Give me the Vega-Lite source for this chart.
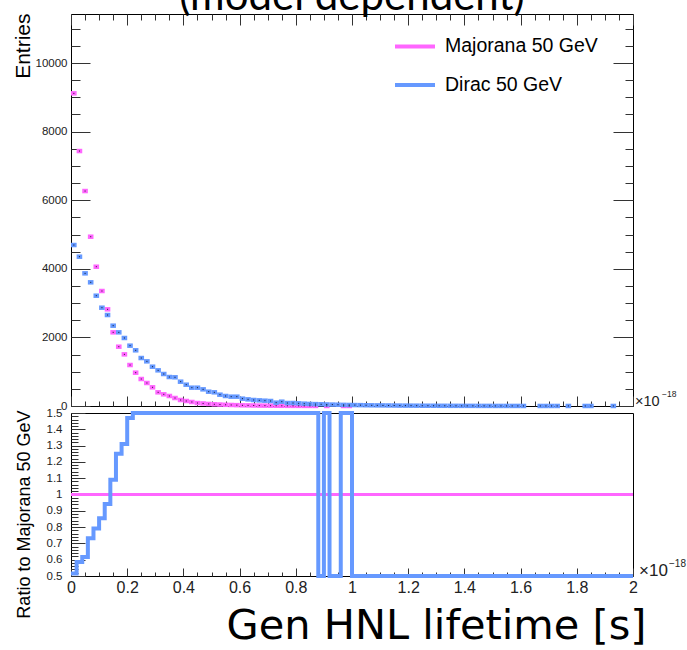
{
  "$schema": "https://vega.github.io/schema/vega-lite/v6.json",
  "padding": {"left": 11, "top": -25, "right": 0, "bottom": 0},
  "bounds": "flush",
  "spacing": 7,
  "background": "white",
  "title": {"text": "(model dependent)", "font": "Lato", "fontSize": 42, "fontWeight": "normal", "color": "#000", "anchor": "middle", "frame": "group", "baseline": "alphabetic", "offset": -39},
  "config": {
    "view": {"stroke": "#000", "strokeWidth": 1},
    "font": "Liberation Sans",
    "axis": {"domain": false, "grid": false, "tickColor": "#333", "tickWidth": 1, "labelColor": "#222", "labelFont": "Liberation Sans", "titleFont": "Liberation Sans", "titleFontWeight": "normal", "titleColor": "#000", "labelFlush": false, "labelOverlap": false, "labelBound": false}
  },
  "datasets": {
    "hist": [
      {"s":"Majorana 50 GeV","a":0,"b":0.02,"n":9117},
      {"s":"Majorana 50 GeV","a":0.02,"b":0.04,"n":7434},
      {"s":"Majorana 50 GeV","a":0.04,"b":0.06,"n":6268},
      {"s":"Majorana 50 GeV","a":0.06,"b":0.08,"n":4936},
      {"s":"Majorana 50 GeV","a":0.08,"b":0.1,"n":4061},
      {"s":"Majorana 50 GeV","a":0.1,"b":0.12,"n":3353},
      {"s":"Majorana 50 GeV","a":0.12,"b":0.14,"n":2819},
      {"s":"Majorana 50 GeV","a":0.14,"b":0.16,"n":2148},
      {"s":"Majorana 50 GeV","a":0.16,"b":0.18,"n":1729},
      {"s":"Majorana 50 GeV","a":0.18,"b":0.2,"n":1506},
      {"s":"Majorana 50 GeV","a":0.2,"b":0.22,"n":1195},
      {"s":"Majorana 50 GeV","a":0.22,"b":0.24,"n":971},
      {"s":"Majorana 50 GeV","a":0.24,"b":0.26,"n":787},
      {"s":"Majorana 50 GeV","a":0.26,"b":0.28,"n":671},
      {"s":"Majorana 50 GeV","a":0.28,"b":0.3,"n":545},
      {"s":"Majorana 50 GeV","a":0.3,"b":0.32,"n":399},
      {"s":"Majorana 50 GeV","a":0.32,"b":0.34,"n":341},
      {"s":"Majorana 50 GeV","a":0.34,"b":0.36,"n":292},
      {"s":"Majorana 50 GeV","a":0.36,"b":0.38,"n":233},
      {"s":"Majorana 50 GeV","a":0.38,"b":0.4,"n":175},
      {"s":"Majorana 50 GeV","a":0.4,"b":0.42,"n":146},
      {"s":"Majorana 50 GeV","a":0.42,"b":0.44,"n":117},
      {"s":"Majorana 50 GeV","a":0.44,"b":0.46,"n":87},
      {"s":"Majorana 50 GeV","a":0.46,"b":0.48,"n":75},
      {"s":"Majorana 50 GeV","a":0.48,"b":0.5,"n":60},
      {"s":"Majorana 50 GeV","a":0.5,"b":0.52,"n":50},
      {"s":"Majorana 50 GeV","a":0.52,"b":0.54,"n":42},
      {"s":"Majorana 50 GeV","a":0.54,"b":0.56,"n":35},
      {"s":"Majorana 50 GeV","a":0.56,"b":0.58,"n":30},
      {"s":"Majorana 50 GeV","a":0.58,"b":0.6,"n":25},
      {"s":"Majorana 50 GeV","a":0.6,"b":0.62,"n":20},
      {"s":"Majorana 50 GeV","a":0.62,"b":0.64,"n":18},
      {"s":"Majorana 50 GeV","a":0.64,"b":0.66,"n":15},
      {"s":"Majorana 50 GeV","a":0.66,"b":0.68,"n":12},
      {"s":"Majorana 50 GeV","a":0.68,"b":0.7,"n":10},
      {"s":"Majorana 50 GeV","a":0.7,"b":0.72,"n":9},
      {"s":"Majorana 50 GeV","a":0.72,"b":0.74,"n":7},
      {"s":"Majorana 50 GeV","a":0.74,"b":0.76,"n":6},
      {"s":"Majorana 50 GeV","a":0.76,"b":0.78,"n":5},
      {"s":"Majorana 50 GeV","a":0.78,"b":0.8,"n":4},
      {"s":"Majorana 50 GeV","a":0.8,"b":0.82,"n":4},
      {"s":"Majorana 50 GeV","a":0.82,"b":0.84,"n":3},
      {"s":"Majorana 50 GeV","a":0.84,"b":0.86,"n":3},
      {"s":"Majorana 50 GeV","a":0.86,"b":0.88,"n":2},
      {"s":"Majorana 50 GeV","a":0.9,"b":0.92,"n":1},
      {"s":"Majorana 50 GeV","a":0.96,"b":0.98,"n":1},
      {"s":"Majorana 50 GeV","a":0.98,"b":1.0,"n":1},
      {"s":"Dirac 50 GeV","a":0,"b":0.02,"n":4694},
      {"s":"Dirac 50 GeV","a":0.02,"b":0.04,"n":4353},
      {"s":"Dirac 50 GeV","a":0.04,"b":0.06,"n":3868},
      {"s":"Dirac 50 GeV","a":0.06,"b":0.08,"n":3606},
      {"s":"Dirac 50 GeV","a":0.08,"b":0.1,"n":3216},
      {"s":"Dirac 50 GeV","a":0.1,"b":0.12,"n":2866},
      {"s":"Dirac 50 GeV","a":0.12,"b":0.14,"n":2653},
      {"s":"Dirac 50 GeV","a":0.14,"b":0.16,"n":2342},
      {"s":"Dirac 50 GeV","a":0.16,"b":0.18,"n":2148},
      {"s":"Dirac 50 GeV","a":0.18,"b":0.2,"n":1983},
      {"s":"Dirac 50 GeV","a":0.2,"b":0.22,"n":1759},
      {"s":"Dirac 50 GeV","a":0.22,"b":0.24,"n":1624},
      {"s":"Dirac 50 GeV","a":0.24,"b":0.26,"n":1399},
      {"s":"Dirac 50 GeV","a":0.26,"b":0.28,"n":1302},
      {"s":"Dirac 50 GeV","a":0.28,"b":0.3,"n":1146},
      {"s":"Dirac 50 GeV","a":0.3,"b":0.32,"n":1040},
      {"s":"Dirac 50 GeV","a":0.32,"b":0.34,"n":933},
      {"s":"Dirac 50 GeV","a":0.34,"b":0.36,"n":845},
      {"s":"Dirac 50 GeV","a":0.36,"b":0.38,"n":837},
      {"s":"Dirac 50 GeV","a":0.38,"b":0.4,"n":709},
      {"s":"Dirac 50 GeV","a":0.4,"b":0.42,"n":621},
      {"s":"Dirac 50 GeV","a":0.42,"b":0.44,"n":534},
      {"s":"Dirac 50 GeV","a":0.44,"b":0.46,"n":534},
      {"s":"Dirac 50 GeV","a":0.46,"b":0.48,"n":486},
      {"s":"Dirac 50 GeV","a":0.48,"b":0.5,"n":417},
      {"s":"Dirac 50 GeV","a":0.5,"b":0.52,"n":399},
      {"s":"Dirac 50 GeV","a":0.52,"b":0.54,"n":330},
      {"s":"Dirac 50 GeV","a":0.54,"b":0.56,"n":292},
      {"s":"Dirac 50 GeV","a":0.56,"b":0.58,"n":272},
      {"s":"Dirac 50 GeV","a":0.58,"b":0.6,"n":272},
      {"s":"Dirac 50 GeV","a":0.6,"b":0.62,"n":214},
      {"s":"Dirac 50 GeV","a":0.62,"b":0.64,"n":194},
      {"s":"Dirac 50 GeV","a":0.64,"b":0.66,"n":175},
      {"s":"Dirac 50 GeV","a":0.66,"b":0.68,"n":165},
      {"s":"Dirac 50 GeV","a":0.68,"b":0.7,"n":155},
      {"s":"Dirac 50 GeV","a":0.7,"b":0.72,"n":146},
      {"s":"Dirac 50 GeV","a":0.72,"b":0.74,"n":97},
      {"s":"Dirac 50 GeV","a":0.74,"b":0.76,"n":126},
      {"s":"Dirac 50 GeV","a":0.76,"b":0.78,"n":87},
      {"s":"Dirac 50 GeV","a":0.78,"b":0.8,"n":87},
      {"s":"Dirac 50 GeV","a":0.8,"b":0.82,"n":78},
      {"s":"Dirac 50 GeV","a":0.82,"b":0.84,"n":68},
      {"s":"Dirac 50 GeV","a":0.84,"b":0.86,"n":60},
      {"s":"Dirac 50 GeV","a":0.86,"b":0.88,"n":55},
      {"s":"Dirac 50 GeV","a":0.88,"b":0.9,"n":50},
      {"s":"Dirac 50 GeV","a":0.9,"b":0.92,"n":45},
      {"s":"Dirac 50 GeV","a":0.92,"b":0.94,"n":41},
      {"s":"Dirac 50 GeV","a":0.94,"b":0.96,"n":37},
      {"s":"Dirac 50 GeV","a":0.96,"b":0.98,"n":33},
      {"s":"Dirac 50 GeV","a":0.98,"b":1.0,"n":30},
      {"s":"Dirac 50 GeV","a":1.0,"b":1.02,"n":27},
      {"s":"Dirac 50 GeV","a":1.02,"b":1.04,"n":25},
      {"s":"Dirac 50 GeV","a":1.04,"b":1.06,"n":22},
      {"s":"Dirac 50 GeV","a":1.06,"b":1.08,"n":20},
      {"s":"Dirac 50 GeV","a":1.08,"b":1.1,"n":18},
      {"s":"Dirac 50 GeV","a":1.1,"b":1.12,"n":17},
      {"s":"Dirac 50 GeV","a":1.12,"b":1.14,"n":15},
      {"s":"Dirac 50 GeV","a":1.14,"b":1.16,"n":14},
      {"s":"Dirac 50 GeV","a":1.16,"b":1.18,"n":12},
      {"s":"Dirac 50 GeV","a":1.18,"b":1.2,"n":11},
      {"s":"Dirac 50 GeV","a":1.2,"b":1.22,"n":10},
      {"s":"Dirac 50 GeV","a":1.22,"b":1.24,"n":9},
      {"s":"Dirac 50 GeV","a":1.24,"b":1.26,"n":8},
      {"s":"Dirac 50 GeV","a":1.26,"b":1.28,"n":8},
      {"s":"Dirac 50 GeV","a":1.28,"b":1.3,"n":7},
      {"s":"Dirac 50 GeV","a":1.3,"b":1.32,"n":6},
      {"s":"Dirac 50 GeV","a":1.32,"b":1.34,"n":6},
      {"s":"Dirac 50 GeV","a":1.34,"b":1.36,"n":5},
      {"s":"Dirac 50 GeV","a":1.36,"b":1.38,"n":5},
      {"s":"Dirac 50 GeV","a":1.38,"b":1.4,"n":4},
      {"s":"Dirac 50 GeV","a":1.4,"b":1.42,"n":4},
      {"s":"Dirac 50 GeV","a":1.42,"b":1.44,"n":4},
      {"s":"Dirac 50 GeV","a":1.44,"b":1.46,"n":3},
      {"s":"Dirac 50 GeV","a":1.46,"b":1.48,"n":3},
      {"s":"Dirac 50 GeV","a":1.48,"b":1.5,"n":3},
      {"s":"Dirac 50 GeV","a":1.5,"b":1.52,"n":2},
      {"s":"Dirac 50 GeV","a":1.52,"b":1.54,"n":2},
      {"s":"Dirac 50 GeV","a":1.54,"b":1.56,"n":2},
      {"s":"Dirac 50 GeV","a":1.56,"b":1.58,"n":2},
      {"s":"Dirac 50 GeV","a":1.58,"b":1.6,"n":2},
      {"s":"Dirac 50 GeV","a":1.6,"b":1.62,"n":1},
      {"s":"Dirac 50 GeV","a":1.66,"b":1.68,"n":1},
      {"s":"Dirac 50 GeV","a":1.68,"b":1.7,"n":1},
      {"s":"Dirac 50 GeV","a":1.7,"b":1.72,"n":1},
      {"s":"Dirac 50 GeV","a":1.72,"b":1.74,"n":1},
      {"s":"Dirac 50 GeV","a":1.76,"b":1.78,"n":1},
      {"s":"Dirac 50 GeV","a":1.82,"b":1.84,"n":1},
      {"s":"Dirac 50 GeV","a":1.84,"b":1.86,"n":1},
      {"s":"Dirac 50 GeV","a":1.92,"b":1.94,"n":1}
    ],
    "ratio": [
      {"a":0,"r":0.515},{"a":0.02,"r":0.586},{"a":0.04,"r":0.617},{"a":0.06,"r":0.731},{"a":0.08,"r":0.792},
      {"a":0.1,"r":0.855},{"a":0.12,"r":0.941},{"a":0.14,"r":1.09},{"a":0.16,"r":1.25},{"a":0.18,"r":1.31},
      {"a":0.2,"r":1.47},{"a":0.22,"r":1.67},{"a":0.24,"r":1.78},{"a":0.26,"r":1.94},{"a":0.28,"r":2.1},
      {"a":0.3,"r":2.61},{"a":0.32,"r":2.74},{"a":0.34,"r":2.89},{"a":0.36,"r":3.59},{"a":0.38,"r":4.05},
      {"a":0.4,"r":4.25},{"a":0.42,"r":4.56},{"a":0.44,"r":6.14},{"a":0.46,"r":6.48},{"a":0.48,"r":6.95},
      {"a":0.5,"r":7.98},{"a":0.52,"r":7.86},{"a":0.54,"r":8.34},{"a":0.56,"r":9.07},{"a":0.58,"r":10.9},
      {"a":0.6,"r":10.7},{"a":0.62,"r":10.8},{"a":0.64,"r":11.7},{"a":0.66,"r":13.8},{"a":0.68,"r":15.5},
      {"a":0.7,"r":16.2},{"a":0.72,"r":13.9},{"a":0.74,"r":21},{"a":0.76,"r":17.4},{"a":0.78,"r":21.8},
      {"a":0.8,"r":19.5},{"a":0.82,"r":22.7},{"a":0.84,"r":20},{"a":0.86,"r":27.5},{"a":0.88,"r":0},
      {"a":0.9,"r":45},{"a":0.92,"r":0},{"a":0.94,"r":0},{"a":0.96,"r":33},{"a":0.98,"r":30},
      {"a":1.0,"r":0},{"a":1.02,"r":0},{"a":1.04,"r":0},{"a":1.06,"r":0},{"a":1.08,"r":0},
      {"a":1.1,"r":0},{"a":1.12,"r":0},{"a":1.14,"r":0},{"a":1.16,"r":0},{"a":1.18,"r":0},
      {"a":1.2,"r":0},{"a":1.22,"r":0},{"a":1.24,"r":0},{"a":1.26,"r":0},{"a":1.28,"r":0},
      {"a":1.3,"r":0},{"a":1.32,"r":0},{"a":1.34,"r":0},{"a":1.36,"r":0},{"a":1.38,"r":0},
      {"a":1.4,"r":0},{"a":1.42,"r":0},{"a":1.44,"r":0},{"a":1.46,"r":0},{"a":1.48,"r":0},
      {"a":1.5,"r":0},{"a":1.52,"r":0},{"a":1.54,"r":0},{"a":1.56,"r":0},{"a":1.58,"r":0},
      {"a":1.6,"r":0},{"a":1.62,"r":0},{"a":1.64,"r":0},{"a":1.66,"r":0},{"a":1.68,"r":0},
      {"a":1.7,"r":0},{"a":1.72,"r":0},{"a":1.74,"r":0},{"a":1.76,"r":0},{"a":1.78,"r":0},
      {"a":1.8,"r":0},{"a":1.82,"r":0},{"a":1.84,"r":0},{"a":1.86,"r":0},{"a":1.88,"r":0},
      {"a":1.9,"r":0},{"a":1.92,"r":0},{"a":1.94,"r":0},{"a":1.96,"r":0},{"a":1.98,"r":0},
      {"a":2.0,"r":0}
    ]
  },
  "vconcat": [
    {
      "width": 562,
      "height": 392,
      "data": {"name": "hist"},
      "resolve": {"axis": {"x": "independent", "y": "independent"}},
      "layer": [
        {
          "mark": {"type": "rule", "strokeWidth": 4.5, "strokeCap": "butt"},
          "encoding": {
            "x": {"field": "a", "type": "quantitative", "scale": {"domain": [0, 2], "nice": false, "zero": false},
                  "axis": {"orient": "bottom", "values": [0,0.2,0.4,0.6,0.8,1,1.2,1.4,1.6,1.8,2], "labels": false, "tickSize": -10, "title": null}},
            "x2": {"field": "b"},
            "y": {"field": "n", "type": "quantitative", "scale": {"domain": [0, 11430], "nice": false},
                  "axis": {"orient": "left", "values": [0,2000,4000,6000,8000,10000], "format": "d", "ticks": false, "tickSize": 0, "labelPadding": 4, "labelFontSize": 11.5,
                           "title": "Entries", "titleFontSize": 21, "titleAngle": 270, "titleAlign": "right", "titleBaseline": "alphabetic", "titleX": -42, "titleY": -1}},
            "color": {"field": "s", "type": "nominal", "sort": ["Majorana 50 GeV", "Dirac 50 GeV"],
                      "scale": {"domain": ["Majorana 50 GeV", "Dirac 50 GeV"], "range": ["#ff66ff", "#6699ff"]},
                      "legend": {"orient": "none", "legendX": 322, "legendY": 10.4, "title": null, "symbolType": "stroke", "symbolSize": 1600, "symbolStrokeWidth": 4, "labelFontSize": 19.5, "labelFont": "Liberation Sans", "labelColor": "#000", "labelOffset": 8, "rowPadding": 6.5, "padding": 0, "symbolOpacity": 1}}
          }
        },
        {
          "mark": {"type": "rule", "strokeWidth": 1, "color": "#000", "strokeCap": "butt", "strokeDash": [0, 2.3, 1.1, 50], "opacity": 0.8},
          "encoding": {
            "x": {"field": "a", "type": "quantitative", "scale": {"domain": [0, 2], "nice": false, "zero": false}, "axis": null},
            "x2": {"field": "b"},
            "y": {"field": "n", "type": "quantitative", "scale": {"domain": [0, 11430], "nice": false}, "axis": null}
          }
        },
        {
          "mark": {"type": "point", "opacity": 0},
          "encoding": {
            "x": {"field": "a", "type": "quantitative", "scale": {"domain": [0, 2], "nice": false, "zero": false},
                  "axis": {"orient": "bottom", "values": [0.05,0.1,0.15,0.25,0.3,0.35,0.45,0.5,0.55,0.65,0.7,0.75,0.85,0.9,0.95,1.05,1.1,1.15,1.25,1.3,1.35,1.45,1.5,1.55,1.65,1.7,1.75,1.85,1.9,1.95], "labels": false, "tickSize": -5, "title": null}},
            "y": {"field": "n", "type": "quantitative", "scale": {"domain": [0, 11430], "nice": false},
                  "axis": {"orient": "left", "values": [0,2000,4000,6000,8000,10000], "labels": false, "tickSize": -19, "title": null}}
          }
        },
        {
          "mark": {"type": "point", "opacity": 0},
          "encoding": {
            "x": {"field": "a", "type": "quantitative", "scale": {"domain": [0, 2], "nice": false, "zero": false},
                  "axis": {"orient": "top", "values": [0,0.2,0.4,0.6,0.8,1,1.2,1.4,1.6,1.8,2], "labels": false, "tickSize": -11, "title": null}},
            "y": {"field": "n", "type": "quantitative", "scale": {"domain": [0, 11430], "nice": false},
                  "axis": {"orient": "left", "values": [500,1000,1500,2500,3000,3500,4500,5000,5500,6500,7000,7500,8500,9000,9500,10500,11000], "labels": false, "tickSize": -9, "title": null}}
          }
        },
        {
          "mark": {"type": "point", "opacity": 0},
          "encoding": {
            "x": {"field": "a", "type": "quantitative", "scale": {"domain": [0, 2], "nice": false, "zero": false},
                  "axis": {"orient": "top", "values": [0.05,0.1,0.15,0.25,0.3,0.35,0.45,0.5,0.55,0.65,0.7,0.75,0.85,0.9,0.95,1.05,1.1,1.15,1.25,1.3,1.35,1.45,1.5,1.55,1.65,1.7,1.75,1.85,1.9,1.95], "labels": false, "tickSize": -6, "title": null}},
            "y": {"field": "n", "type": "quantitative", "scale": {"domain": [0, 11430], "nice": false},
                  "axis": {"orient": "right", "values": [0,2000,4000,6000,8000,10000], "labels": false, "tickSize": -20, "title": null}}
          }
        },
        {
          "mark": {"type": "point", "opacity": 0},
          "encoding": {
            "x": {"field": "a", "type": "quantitative", "scale": {"domain": [0, 2], "nice": false, "zero": false}, "axis": null},
            "y": {"field": "n", "type": "quantitative", "scale": {"domain": [0, 11430], "nice": false},
                  "axis": {"orient": "right", "values": [500,1000,1500,2500,3000,3500,4500,5000,5500,6500,7000,7500,8500,9000,9500,10500,11000], "labels": false, "tickSize": -8, "title": null}}
          }
        },
        {
          "data": {"values": [{}]},
          "mark": {"type": "text", "text": "×10", "align": "left", "baseline": "alphabetic", "dx": 2, "fontSize": 14.5, "font": "Liberation Sans", "color": "#222"},
          "encoding": {
            "x": {"datum": 2, "type": "quantitative", "scale": {"domain": [0, 2], "nice": false, "zero": false}, "axis": null},
            "y": {"datum": 0, "type": "quantitative", "scale": {"domain": [0, 11430], "nice": false}, "axis": null}
          }
        },
        {
          "data": {"values": [{}]},
          "mark": {"type": "text", "text": "−18", "align": "left", "baseline": "alphabetic", "dx": 29, "dy": -9, "fontSize": 8.5, "font": "Liberation Sans", "color": "#222"},
          "encoding": {
            "x": {"datum": 2, "type": "quantitative", "scale": {"domain": [0, 2], "nice": false, "zero": false}, "axis": null},
            "y": {"datum": 0, "type": "quantitative", "scale": {"domain": [0, 11430], "nice": false}, "axis": null}
          }
        }
      ]
    },
    {
      "width": 562,
      "height": 163,
      "data": {"name": "ratio"},
      "resolve": {"axis": {"x": "independent", "y": "independent"}},
      "layer": [
        {
          "data": {"values": [{}]},
          "mark": {"type": "rule", "color": "#ff66ff", "strokeWidth": 3},
          "encoding": {
            "y": {"datum": 1, "type": "quantitative", "scale": {"domain": [0.5, 1.5], "nice": false, "zero": false, "clamp": true}, "axis": null}
          }
        },
        {
          "mark": {"type": "line", "interpolate": "step-after", "strokeWidth": 4, "color": "#6699ff", "strokeJoin": "miter"},
          "encoding": {
            "x": {"field": "a", "type": "quantitative", "scale": {"domain": [0, 2], "nice": false, "zero": false},
                  "axis": {"orient": "bottom", "values": [0,0.2,0.4,0.6,0.8,1,1.2,1.4,1.6,1.8,2], "format": "~g", "ticks": false, "tickSize": 0, "labelPadding": 3, "labelFontSize": 16,
                           "title": "Gen HNL lifetime [s]", "titleFont": "DejaVu Sans", "titleFontSize": 41.5, "titleAlign": "right", "titleBaseline": "alphabetic", "titleX": 575, "titleY": 62, "titleColor": "#000"}},
            "y": {"field": "r", "type": "quantitative", "scale": {"domain": [0.5, 1.5], "nice": false, "zero": false, "clamp": true},
                  "axis": {"orient": "left", "values": [0.5,0.6,0.7,0.8,0.9,1,1.1,1.2,1.3,1.4,1.5], "format": "~g", "ticks": false, "tickSize": 0, "labelPadding": 9, "labelFontSize": 11.5,
                           "title": "Ratio to Majorana 50 GeV", "titleFontSize": 18, "titleAngle": 270, "titleAlign": "right", "titleBaseline": "alphabetic", "titleX": -42, "titleY": -3}}
          }
        },
        {
          "mark": {"type": "point", "opacity": 0},
          "encoding": {
            "x": {"field": "a", "type": "quantitative", "scale": {"domain": [0, 2], "nice": false, "zero": false},
                  "axis": {"orient": "bottom", "values": [0,0.2,0.4,0.6,0.8,1,1.2,1.4,1.6,1.8,2], "labels": false, "tickSize": -8, "title": null}},
            "y": {"field": "r", "type": "quantitative", "scale": {"domain": [0.5, 1.5], "nice": false, "zero": false, "clamp": true},
                  "axis": {"orient": "left", "values": [0.5,0.6,0.7,0.8,0.9,1,1.1,1.2,1.3,1.4,1.5], "labels": false, "tickSize": -14, "title": null}}
          }
        },
        {
          "mark": {"type": "point", "opacity": 0},
          "encoding": {
            "x": {"field": "a", "type": "quantitative", "scale": {"domain": [0, 2], "nice": false, "zero": false},
                  "axis": {"orient": "bottom", "values": [0.05,0.1,0.15,0.25,0.3,0.35,0.45,0.5,0.55,0.65,0.7,0.75,0.85,0.9,0.95,1.05,1.1,1.15,1.25,1.3,1.35,1.45,1.5,1.55,1.65,1.7,1.75,1.85,1.9,1.95], "labels": false, "tickSize": -4, "title": null}},
            "y": {"field": "r", "type": "quantitative", "scale": {"domain": [0.5, 1.5], "nice": false, "zero": false, "clamp": true},
                  "axis": {"orient": "left", "values": [0.52,0.54,0.56,0.58,0.62,0.64,0.66,0.68,0.72,0.74,0.76,0.78,0.82,0.84,0.86,0.88,0.92,0.94,0.96,0.98,1.02,1.04,1.06,1.08,1.12,1.14,1.16,1.18,1.22,1.24,1.26,1.28,1.32,1.34,1.36,1.38,1.42,1.44,1.46,1.48], "labels": false, "tickSize": -7, "title": null}}
          }
        },
        {
          "data": {"values": [{}]},
          "mark": {"type": "text", "text": "×10", "align": "left", "baseline": "alphabetic", "dx": 6, "fontSize": 17, "font": "Liberation Sans", "color": "#222"},
          "encoding": {
            "x": {"datum": 2, "type": "quantitative", "scale": {"domain": [0, 2], "nice": false, "zero": false}, "axis": null},
            "y": {"datum": 0.5, "type": "quantitative", "scale": {"domain": [0.5, 1.5], "nice": false, "zero": false, "clamp": true}, "axis": null}
          }
        },
        {
          "data": {"values": [{}]},
          "mark": {"type": "text", "text": "−18", "align": "left", "baseline": "alphabetic", "dx": 36, "dy": -9, "fontSize": 10, "font": "Liberation Sans", "color": "#222"},
          "encoding": {
            "x": {"datum": 2, "type": "quantitative", "scale": {"domain": [0, 2], "nice": false, "zero": false}, "axis": null},
            "y": {"datum": 0.5, "type": "quantitative", "scale": {"domain": [0.5, 1.5], "nice": false, "zero": false, "clamp": true}, "axis": null}
          }
        }
      ]
    }
  ]
}
